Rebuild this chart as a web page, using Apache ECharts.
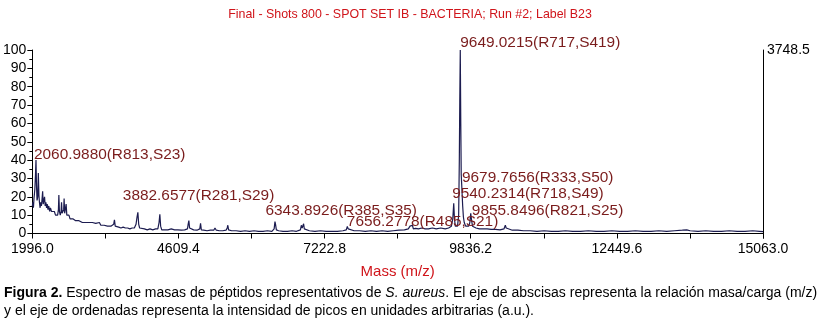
<!DOCTYPE html>
<html>
<head>
<meta charset="utf-8">
<script src="https://cdn.jsdelivr.net/npm/echarts@6/dist/echarts.min.js"></script>
<style>
  html, body { margin: 0; padding: 0; background: #fff; }
  #main { width: 820px; height: 321px; }
</style>
</head>
<body>
<div id="main"></div>
<script>
// espectro (m/z, intensidad %)
var masses = [1996, 2005, 2015, 2025, 2040, 2052, 2061, 2070, 2080, 2092, 2103, 2113, 2123, 2135, 2145, 2158, 2170, 2180, 2190, 2202,
  2214, 2225, 2238, 2250, 2262, 2275, 2290, 2305, 2320, 2338, 2355, 2372, 2390, 2410, 2430, 2448, 2462, 2470, 2480, 2495,
  2510, 2518, 2528, 2545, 2556, 2564, 2574, 2590, 2600, 2612, 2630, 2650, 2670, 2695, 2720, 2745, 2770, 2800, 2830, 2860,
  2890, 2920, 2950, 2980, 3010, 3040, 3070, 3100, 3130, 3160, 3195, 3220, 3250, 3280, 3310, 3340, 3370, 3400, 3430, 3450,
  3464, 3478, 3500, 3540, 3580, 3620, 3660, 3700, 3740, 3780, 3820, 3850, 3868, 3883, 3898, 3915, 3950, 4000, 4050, 4100,
  4150, 4200, 4240, 4262, 4276, 4290, 4310, 4360, 4420, 4480, 4540, 4600, 4660, 4720, 4770, 4782, 4795, 4808, 4830, 4880,
  4940, 4990, 5004, 5018, 5060, 5120, 5180, 5240, 5262, 5272, 5285, 5340, 5400, 5460, 5480, 5492, 5505, 5560, 5640, 5720,
  5800, 5880, 5960, 6040, 6120, 6200, 6280, 6320, 6335, 6345, 6360, 6400, 6480, 6560, 6640, 6720, 6790, 6806, 6822, 6847,
  6860, 6880, 6950, 7050, 7150, 7250, 7350, 7450, 7550, 7610, 7629, 7645, 7680, 7750, 7850, 7950, 8050, 8150, 8250, 8350,
  8450, 8550, 8650, 8720, 8750, 8765, 8780, 8793, 8810, 8850, 8900, 8960, 9020, 9080, 9150, 9220, 9300, 9380, 9440, 9490,
  9515, 9532, 9545, 9560, 9580, 9600, 9620, 9632, 9640, 9649, 9658, 9666, 9674, 9682, 9692, 9705, 9720, 9745, 9770, 9800,
  9820, 9836, 9852, 9868, 9890, 9930, 9990, 10060, 10130, 10200, 10280, 10360, 10430, 10455, 10470, 10500, 10580, 10680, 10780, 10900,
  11020, 11150, 11280, 11400, 11530, 11660, 11800, 11940, 12080, 12220, 12360, 12500, 12640, 12780, 12920, 13060, 13200, 13340, 13480, 13620,
  13700, 13760, 13900, 14040, 14180, 14320, 14460, 14600, 14740, 14880, 15000, 15063];
var intensity = [15, 17, 14, 19, 24, 32, 40, 26, 18, 20, 33, 21, 17, 14, 17, 15, 19, 23, 16, 18,
  20, 15, 17, 14, 16, 13, 15, 12, 14, 12, 13, 11, 12, 10, 11, 10, 13, 21, 12, 10,
  12, 17, 11, 10, 13, 19, 11, 12, 16, 10, 9, 10, 8, 9, 8, 9, 7, 8, 7, 8,
  6, 7, 6, 7, 6, 5.5, 6, 5, 5.5, 5, 6, 4.5, 5, 4.5, 5, 4, 4.5, 4, 4, 5,
  7.5, 4, 3.5, 3.5, 3, 3.5, 3, 3, 2.5, 3, 3, 5, 9, 11.5, 5, 3, 2.5, 2.5, 2, 2.5,
  2, 2.5, 2.5, 6, 10.5, 4, 2, 2, 2, 2.5, 2, 2, 1.8, 2, 2.5, 5, 7, 3, 2, 2,
  1.8, 2.5, 5.5, 2, 1.8, 1.5, 1.8, 1.8, 3, 3.5, 1.8, 1.5, 1.5, 1.8, 3, 4.5, 2, 1.5, 1.5, 1.2,
  1.5, 1.2, 1.5, 1.2, 1.2, 1.5, 1.2, 2.5, 6.5, 5, 2, 1.5, 1.2, 1.2, 1.5, 1.2, 2, 4.5, 3, 5.3,
  2.5, 2, 1.5, 1.2, 1.5, 1.2, 1.2, 1.2, 1.5, 2, 3.8, 2.5, 1.8, 1.5, 1.5, 1.2, 1.5, 1.2, 1.5, 1.2,
  1.5, 1.8, 2, 2.5, 4, 5, 3, 4.5, 2.5, 2.8, 2.5, 3, 2.5, 2.5, 3, 2.5, 3, 2.5, 3, 4,
  8, 16.5, 8, 4, 3, 4, 10, 40, 72, 100, 60, 32, 27, 26, 15, 9, 6, 4, 3.5, 4,
  6, 11, 7, 4, 3, 3, 2.5, 2.5, 2.5, 2.2, 2.2, 2, 2.5, 4.5, 3, 2, 1.8, 1.8, 1.5, 1.5,
  1.2, 1.5, 1.2, 1.2, 1.5, 1.2, 1.2, 1.5, 1.2, 1.2, 1.5, 1.2, 1.2, 1.5, 1.2, 1.2, 1.5, 1.2, 1.5, 1.8,
  2, 1.5, 1.2, 1.5, 1.2, 1.2, 1.5, 1.2, 1.2, 1.5, 1.2, 1];

// picos anotados
var peakMass = [2060.988, 3882.6577, 6343.8926, 7656.2778, 9649.0215, 9679.7656, 9540.2314, 9855.8496];
var peakHeight = [40, 11.5, 6.5, 3.8, 100, 27, 16.5, 11];
var peakText = ['2060.9880(R813,S23)', '3882.6577(R281,S29)', '6343.8926(R385,S35)', '7656.2778(R485,S21)',
  '9649.0215(R717,S419)', '9679.7656(R333,S50)', '9540.2314(R718,S49)', '9855.8496(R821,S25)'];
var labelShift = [[-2, -5], [-15, -17], [-10, -11], [-2, -5], [0, -7], [0, -6], [-2, -9], [0, -3]];

var xTicks = [1996.0, 4609.4, 7222.8, 9836.2, 12449.6, 15063.0];
var rightMax = 3748.5;

var FONT = 'Liberation Sans, Arial, sans-serif';

var chart = echarts.init(document.getElementById('main'));

var seriesData = masses.map(function (m, i) { return [m, intensity[i]]; });
var marks = peakMass.map(function (m, i) {
  return {
    coord: [m, peakHeight[i]],
    label: { show: true, formatter: peakText[i], position: labelShift[i] }
  };
});

var option = {
  animation: false,
  title: {
    text: 'Final - Shots 800 - SPOT SET IB - BACTERIA; Run #2; Label B23',
    left: 'center', top: 4,
    textStyle: { color: '#d0141a', fontSize: 12.4, fontWeight: 'normal', fontFamily: FONT }
  },
  grid: { left: 32, right: 57, top: 50, bottom: 87.5 },
  xAxis: {
    type: 'value',
    min: xTicks[0], max: xTicks[xTicks.length - 1],
    interval: xTicks[1] - xTicks[0],
    name: 'Mass (m/z)', nameLocation: 'middle', nameGap: 31,
    nameTextStyle: { color: '#d0141a', fontSize: 15, fontFamily: FONT },
    axisLine: { lineStyle: { color: '#000', width: 1 } },
    axisTick: { show: true, length: 5, lineStyle: { color: '#000' } },
    minorTick: { show: true, splitNumber: 2, length: 5, lineStyle: { color: '#000' } },
    axisLabel: {
      color: '#000', fontSize: 14, fontFamily: FONT, margin: 9,
      formatter: function (v) { return v.toFixed(1); }
    },
    splitLine: { show: false }
  },
  yAxis: [{
    type: 'value', min: 0, max: 100, interval: 10,
    axisLine: { show: true, lineStyle: { color: '#000', width: 1 } },
    axisTick: { show: true, length: 5, lineStyle: { color: '#000' } },
    minorTick: { show: true, splitNumber: 2, length: 3, lineStyle: { color: '#000' } },
    axisLabel: { color: '#000', fontSize: 14, fontFamily: FONT, margin: 6 },
    splitLine: { show: false }
  }, {
    type: 'value', min: 0, max: rightMax, interval: rightMax,
    position: 'right',
    axisLine: { show: true, lineStyle: { color: '#000', width: 1 } },
    axisTick: { show: false },
    axisLabel: {
      color: '#000', fontSize: 14, fontFamily: FONT, margin: 4,
      formatter: function (v) { return v === rightMax ? v.toFixed(1) : ''; }
    },
    splitLine: { show: false }
  }],
  series: [{
    type: 'line',
    data: seriesData,
    showSymbol: false,
    sampling: 'none',
    lineStyle: { color: '#1c1c50', width: 1.2 },
    markPoint: {
      symbol: 'circle', symbolSize: 0,
      label: {
        color: '#7a1c1c', fontSize: 15.4, fontFamily: FONT,
        align: 'left', verticalAlign: 'middle'
      },
      data: marks
    }
  }],
  graphic: [{
    type: 'text', left: 4, top: 284,
    style: {
      text: '{b|Figura 2.} Espectro de masas de péptidos representativos de {i|S. aureus}. El eje de abscisas representa la relación masa/carga (m/z)\ny el eje de ordenadas representa la intensidad de picos en unidades arbitrarias (a.u.).',
      fill: '#000', fontSize: 14, fontFamily: FONT, lineHeight: 18,
      rich: {
        b: { fontWeight: 'bold', fontSize: 14, fontFamily: FONT, fill: '#000', lineHeight: 18 },
        i: { fontStyle: 'italic', fontSize: 14, fontFamily: FONT, fill: '#000', lineHeight: 18 }
      }
    }
  }]
};

chart.setOption(option);
</script>
</body>
</html>
